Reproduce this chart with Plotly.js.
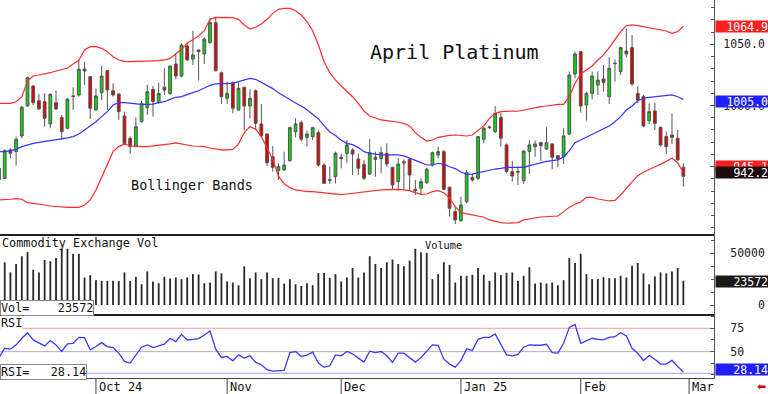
<!DOCTYPE html>
<html>
<head>
<meta charset="utf-8">
<script src="https://cdn.plot.ly/plotly-3.0.1.min.js"></script>
<style>
html,body{margin:0;padding:0;background:#fff;}
#chart{width:768px;height:394px;}
</style>
</head>
<body>
<div id="chart"></div>
<script>
// ---- Data ----
const openP = [
 939.2, 940.5, 963.7, 962.3, 975.1, 999.6, 1015.9, 1003.9, 1003.1, 984.9,
 1002.3, 990.3, 981.4, 1007.8, 1008.6, 1029.8, 1023.6, 996.3, 1010.5, 1028.5,
 1012.1, 1009.4, 991.4, 973.2, 966.4, 986.8, 998.2, 1013.2, 1002.3, 1014.9,
 1009.9, 1033.9, 1024.1, 1048.6, 1038.0, 1045.4, 1042.1, 1051.3, 1067.7, 1026.8,
 1005.9, 1018.7, 996.3, 1014.9, 999.6, 1012.1, 984.9, 976.7, 958.2, 946.8,
 947.3, 954.9, 978.6, 986.0, 974.0, 974.6, 977.8, 951.4, 939.5, 941.9,
 957.7, 960.9, 963.7, 956.3, 951.9, 944.0, 956.0, 956.6, 960.9, 949.5,
 937.8, 953.0, 956.0, 931.5, 932.3, 937.0, 951.4, 959.6, 962.3, 933.2,
 913.3, 905.9, 921.5, 941.3, 940.5, 972.4, 981.9, 978.6, 990.3, 967.8,
 946.0, 946.0, 938.6, 962.3, 966.4, 969.6, 964.5, 968.6, 959.0, 958.2,
 976.7, 1025.7, 1044.0, 1000.4, 1009.9, 1016.8, 1021.7, 1007.2, 1034.6, 1027.7,
 1044.5, 1047.3, 1009.9, 1007.2, 987.6, 995.5, 982.2, 974.6, 975.9, 973.2,
 949.5];
const highP = [
 955.5, 964.2, 965.0, 974.6, 999.6, 1023.6, 1016.8, 1009.4, 1009.9, 1009.9,
 1012.1, 992.3, 1005.9, 1014.9, 1037.2, 1035.8, 1023.6, 1014.0, 1032.3, 1028.5,
 1018.1, 1009.9, 995.0, 974.6, 990.3, 1003.9, 1016.8, 1015.9, 1018.7, 1030.4,
 1032.3, 1042.6, 1050.8, 1051.3, 1061.1, 1045.4, 1055.7, 1071.2, 1072.0, 1027.7,
 1019.5, 1019.5, 1018.7, 1014.9, 1013.2, 1013.2, 1001.2, 977.3, 966.9, 952.8,
 962.3, 982.7, 989.5, 987.6, 979.5, 982.7, 979.5, 952.8, 950.0, 962.3,
 960.4, 971.8, 965.0, 960.9, 955.5, 972.4, 962.3, 966.4, 969.1, 950.0,
 956.9, 956.0, 956.9, 939.2, 940.5, 949.2, 962.3, 966.4, 963.7, 933.7,
 917.4, 925.5, 947.3, 944.6, 975.1, 982.7, 983.5, 999.6, 994.2, 969.1,
 954.7, 950.0, 963.7, 971.8, 971.3, 970.5, 982.2, 969.1, 959.6, 981.4,
 1027.7, 1044.0, 1044.0, 1011.3, 1027.7, 1027.7, 1033.1, 1039.4, 1037.7, 1048.1,
 1063.0, 1057.6, 1015.9, 1008.6, 1001.8, 1002.3, 982.7, 978.6, 993.6, 980.0,
 952.8];
const lowP = [
 935.1, 940.0, 956.9, 950.9, 973.2, 999.1, 1000.4, 996.3, 982.7, 981.4,
 996.3, 971.8, 980.5, 996.3, 1007.2, 1016.8, 989.0, 995.8, 1004.5, 996.3,
 1007.2, 988.2, 968.6, 960.4, 966.0, 986.3, 992.3, 990.9, 1001.8, 1008.6,
 1008.6, 1021.4, 1023.0, 1036.4, 1033.1, 1020.3, 1033.9, 1050.8, 1027.7, 1001.2,
 1001.2, 993.6, 995.8, 979.5, 989.5, 980.0, 974.0, 950.6, 946.0, 939.2,
 946.8, 954.1, 974.0, 970.5, 966.4, 971.8, 950.0, 935.9, 935.9, 936.4,
 948.7, 953.3, 943.2, 943.2, 939.2, 943.2, 941.9, 944.6, 950.0, 931.5,
 930.4, 931.0, 930.4, 926.9, 926.9, 935.9, 950.0, 956.9, 931.0, 909.2,
 903.2, 905.1, 920.1, 937.8, 939.2, 969.1, 981.0, 977.3, 966.4, 944.6,
 937.8, 935.1, 935.9, 944.0, 958.2, 954.9, 963.7, 947.9, 949.5, 952.2,
 975.9, 1022.2, 994.2, 987.6, 1005.0, 1008.6, 1011.3, 1001.2, 1019.5, 1024.9,
 1039.4, 1015.9, 1001.8, 982.2, 984.9, 980.0, 966.4, 960.4, 968.6, 955.0,
 933.7];
const closeP = [
 948.7, 963.1, 960.9, 972.4, 998.5, 1022.8, 1002.3, 997.2, 989.5, 1009.1,
 997.2, 978.6, 1005.3, 1007.5, 1029.6, 1028.2, 997.7, 1007.8, 1024.1, 1012.7,
 1008.6, 995.0, 968.6, 966.4, 982.7, 1001.8, 1011.3, 1003.1, 1009.9, 1012.7,
 1032.3, 1024.1, 1049.4, 1037.2, 1041.3, 1044.0, 1054.3, 1067.7, 1028.5, 1007.2,
 1009.9, 997.7, 1014.0, 999.6, 1005.9, 985.4, 975.1, 953.3, 949.5, 950.0,
 951.4, 981.9, 984.9, 972.4, 976.7, 981.9, 951.4, 936.4, 939.0, 960.9,
 956.6, 967.8, 960.4, 948.7, 940.5, 961.5, 957.7, 961.5, 952.2, 935.1,
 952.2, 954.0, 943.2, 930.4, 937.8, 947.9, 961.5, 962.3, 931.5, 916.0,
 906.5, 918.7, 945.1, 939.2, 974.6, 981.4, 982.4, 993.6, 973.2, 946.0,
 942.4, 945.6, 962.8, 967.8, 968.6, 967.2, 969.6, 957.7, 956.3, 975.1,
 1024.9, 1042.1, 999.6, 1009.9, 1024.1, 1020.8, 1018.7, 1030.4, 1034.2, 1047.3,
 1042.1, 1017.6, 1004.5, 983.3, 995.0, 985.4, 967.7, 966.4, 974.0, 955.5,
 942.2];
const bbUpper = [
 1001.8, 1001.8, 1001.8, 1003.1, 1007.2, 1020.0, 1024.1, 1024.9, 1025.7, 1026.8,
 1028.2, 1029.0, 1030.4, 1033.9, 1037.2, 1045.4, 1048.1, 1048.1, 1046.7, 1044.0,
 1039.9, 1037.2, 1036.1, 1035.8, 1035.8, 1036.4, 1036.4, 1036.4, 1036.6, 1037.2,
 1038.5, 1042.4, 1045.9, 1050.8, 1053.5, 1056.8, 1061.1, 1070.4, 1072.0, 1072.0,
 1072.0, 1071.8, 1070.4, 1065.8, 1062.5, 1063.9, 1066.6, 1070.4, 1075.3, 1078.6,
 1079.4, 1079.4, 1077.5, 1073.9, 1068.5, 1061.1, 1049.4, 1035.8, 1026.8, 1020.8,
 1015.9, 1011.9, 1007.2, 1001.8, 995.5, 991.4, 989.5, 988.2, 987.6, 987.1,
 986.3, 985.4, 983.3, 977.8, 974.0, 971.0, 971.8, 974.0, 975.1, 975.6,
 975.9, 975.6, 975.1, 975.9, 979.5, 983.3, 989.5, 993.6, 995.0, 995.5,
 995.5, 995.3, 996.3, 997.2, 998.5, 999.1, 999.6, 1000.4, 1000.9, 1000.9,
 1007.2, 1018.1, 1025.7, 1029.0, 1032.3, 1037.2, 1041.3, 1047.3, 1054.1, 1060.3,
 1065.2, 1065.8, 1065.2, 1064.4, 1063.6, 1062.8, 1061.7, 1060.9, 1059.0, 1060.3,
 1064.9];
const bbMid = [
 962.3, 962.3, 963.1, 964.2, 966.4, 967.8, 969.1, 969.9, 970.5, 971.3,
 971.8, 972.4, 973.5, 974.6, 976.7, 980.0, 983.3, 986.8, 990.9, 995.0,
 1000.4, 1002.3, 1002.3, 1001.8, 1001.2, 1000.9, 1000.9, 1001.2, 1002.3, 1003.1,
 1005.0, 1006.7, 1007.2, 1008.6, 1010.5, 1012.1, 1014.0, 1016.5, 1017.6, 1017.6,
 1017.6, 1018.1, 1019.5, 1020.8, 1022.2, 1021.4, 1018.9, 1015.9, 1013.8, 1010.5,
 1007.5, 1004.5, 1002.1, 999.6, 996.6, 992.8, 989.0, 983.5, 978.4, 975.4,
 971.6, 969.1, 968.0, 965.6, 962.3, 960.9, 960.1, 959.6, 959.6, 959.6,
 959.6, 958.8, 957.1, 955.5, 953.3, 951.4, 951.4, 952.8, 951.9, 950.0,
 948.4, 945.7, 943.8, 944.0, 945.1, 946.2, 947.3, 948.1, 948.7, 949.5,
 949.5, 949.2, 949.5, 950.9, 952.2, 953.3, 954.4, 954.9, 955.5, 958.2,
 963.1, 969.6, 971.8, 974.0, 976.2, 978.4, 980.6, 983.3, 986.8, 990.9,
 996.3, 999.6, 1003.9, 1005.9, 1006.7, 1007.2, 1007.8, 1008.3, 1008.6, 1007.2,
 1005.0];
const bbLower = [
 922.8, 922.8, 923.4, 923.9, 923.4, 920.6, 920.1, 919.3, 918.7, 917.9,
 917.4, 917.4, 916.8, 916.8, 916.8, 918.7, 922.8, 931.0, 941.9, 951.4,
 962.3, 966.4, 968.6, 966.9, 966.4, 966.4, 966.4, 966.9, 967.2, 967.5,
 968.6, 969.4, 968.6, 967.5, 966.9, 966.7, 966.4, 965.3, 964.5, 963.7,
 963.7, 964.2, 968.6, 977.8, 982.7, 980.6, 974.6, 965.0, 956.0, 942.4,
 935.9, 932.9, 931.0, 930.4, 929.6, 929.6, 929.1, 928.8, 928.3, 927.7,
 927.2, 927.7, 928.3, 929.1, 929.6, 930.4, 930.7, 931.0, 931.3, 931.5,
 931.5, 931.0, 930.4, 928.8, 927.4, 927.7, 929.6, 930.4, 928.8, 924.2,
 917.4, 912.5, 911.4, 910.6, 909.7, 908.7, 906.5, 905.1, 904.3, 903.8,
 903.8, 904.3, 906.5, 907.6, 908.1, 908.9, 909.2, 908.9, 909.7, 913.3,
 916.8, 919.3, 921.2, 925.0, 925.0, 923.6, 922.8, 922.0, 922.5, 926.9,
 932.3, 937.8, 942.7, 945.4, 947.9, 950.0, 951.9, 954.1, 956.9, 953.3,
 945.1];
const volume = [
 30000, 41320, 31520, 39690, 47200, 51120, 34130, 31520, 43610, 42300,
 45570, 54390, 54390, 49490, 49490, 26620, 28910, 24010, 23350, 23350,
 23350, 23350, 31520, 23350, 27270, 20080, 32500, 22700, 21070, 27270,
 25640, 26620, 24990, 26620, 29890, 29560, 21070, 21720, 32500, 30540,
 22700, 21720, 19100, 37400, 25960, 31520, 24990, 31520, 25960, 26290,
 20740, 24990, 20080, 18450, 21070, 19100, 30870, 30870, 26290, 29890,
 22700, 26620, 35770, 26620, 31520, 47200, 39690, 35770, 41320, 43930,
 39690, 37400, 42960, 54390, 51120, 50470, 24990, 29890, 41320, 38710,
 21720, 28250, 28250, 29230, 35770, 29230, 23350, 31520, 28910, 31190,
 31520, 23350, 28250, 36420, 20740, 21720, 20740, 21720, 19100, 24010,
 45570, 40670, 49490, 29890, 24990, 24990, 26940, 25960, 25960, 28250,
 26620, 38050, 40670, 30540, 20080, 27600, 31520, 30540, 32500, 35770,
 23572];
const rsi = [
 43.5, 53.6, 52.6, 57.2, 64.3, 70.3, 62.5, 59.6, 56.1, 61.8,
 57.2, 50.1, 58.2, 58.9, 65.3, 65.0, 51.8, 55.4, 59.6, 55.4,
 54.3, 48.3, 39.4, 37.7, 46.5, 54.7, 57.2, 54.3, 56.1, 57.9,
 64.3, 60.7, 68.5, 62.5, 63.2, 63.9, 67.8, 72.1, 52.6, 43.7,
 44.8, 40.1, 46.5, 43.0, 45.5, 38.4, 35.9, 30.6, 29.1, 29.5,
 29.9, 49.0, 50.1, 44.8, 46.2, 49.4, 37.7, 33.1, 34.8, 46.5,
 45.5, 50.1, 47.6, 43.0, 38.7, 50.4, 49.0, 50.1, 45.5, 38.4,
 48.3, 48.3, 43.7, 38.7, 43.7, 50.1, 57.2, 56.8, 41.9, 36.6,
 33.4, 40.5, 52.9, 51.1, 63.2, 65.3, 65.3, 68.9, 57.2, 46.5,
 45.5, 46.9, 54.7, 57.2, 56.8, 56.8, 57.9, 49.0, 48.3, 58.9,
 76.0, 79.1, 58.9, 61.8, 64.3, 63.2, 62.5, 65.3, 66.0, 70.3,
 66.7, 53.6, 48.3, 40.5, 45.8, 41.9, 36.6, 36.6, 40.5, 34.1,
 28.14];
const monthStartIdx = [17, 40, 60, 81, 102, 121];
const monthLabels = ['Oct 24', 'Nov', 'Dec', 'Jan 25', 'Feb', 'Mar'];
const priceTicks = [950, 1000, 1050];
const priceTickText = ['\u00a0950.0', '1000.0', '1050.0'];
const volTicks = [0, 50000];
const volTickText = ['\u00a0\u00a0\u00a0\u00a0\u00a00', '\u00a050000'];
const rsiTicks = [50, 75];
const rsiTickText = ['\u00a050', '\u00a075'];
const rsiLevels = [75, 50, 26.7];
const rsiLevelColors = ['#ff9a9a', '#b4b4b4', '#a0a0ff'];

// ---- Chart ----
const xs = closeP.map((_, i) => i);
const mono = 'DejaVu Sans Mono, Liberation Mono, monospace';
const last = closeP.length - 1;

const traces = [
  {type: 'scatter', mode: 'lines', x: xs, y: bbUpper, xaxis: 'x', yaxis: 'y',
   line: {color: '#ff2b2b', width: 1.2}},
  {type: 'scatter', mode: 'lines', x: xs, y: bbLower, xaxis: 'x', yaxis: 'y',
   line: {color: '#ff2b2b', width: 1.2}},
  {type: 'scatter', mode: 'lines', x: xs, y: bbMid, xaxis: 'x', yaxis: 'y',
   line: {color: '#3535ff', width: 1.2}},
  {type: 'candlestick', x: xs, open: openP, high: highP, low: lowP, close: closeP,
   xaxis: 'x', yaxis: 'y', whiskerwidth: 0,
   increasing: {line: {color: '#555555', width: 1}, fillcolor: '#11d011'},
   decreasing: {line: {color: '#555555', width: 1}, fillcolor: '#e00000'}},
  {type: 'bar', x: xs, y: volume, xaxis: 'x', yaxis: 'y2', width: 0.32,
   marker: {color: '#2a2a2a', line: {width: 0}}},
  {type: 'scatter', mode: 'lines', x: xs, y: rsi, xaxis: 'x', yaxis: 'y3',
   line: {color: '#3a3aff', width: 1.3}}
];

const H = 378; // plot area height in px
const dMain = (H - 235) / H, dVol = (H - 315) / H;

const yCommon = {
  side: 'right', anchor: 'x', showline: true, linecolor: '#555', linewidth: 1,
  ticks: 'inside', ticklen: 4, tickcolor: '#555', showgrid: false, zeroline: false,
  tickfont: {family: mono, size: 11.5, color: '#222'}, fixedrange: true,
  ticklabelstandoff: 6
};

const shapes = [
  {type: 'line', xref: 'paper', yref: 'paper', x0: 0, x1: 1, y0: dMain, y1: dMain,
   line: {color: '#222', width: 2}},
  {type: 'line', xref: 'paper', yref: 'paper', x0: 0, x1: 1, y0: dVol, y1: dVol,
   line: {color: '#222', width: 2}}
];
rsiLevels.forEach((v, k) => shapes.push({type: 'line', layer: 'below', xref: 'paper', yref: 'y3',
  x0: 0, x1: 1, y0: v, y1: v, line: {color: rsiLevelColors[k], width: 1}}));
monthStartIdx.forEach(v => shapes.push({type: 'line', xref: 'x', yref: 'paper',
  x0: v, x1: v, y0: -16 / H, y1: 0, line: {color: '#444', width: 1}}));

function valueBox(y, yref, text, bg, yshift) {
  return {xref: 'paper', x: 1, xanchor: 'left', xshift: 1, yref: yref, y: y, yanchor: 'middle',
    yshift: yshift, text: text, showarrow: false, bgcolor: bg, width: 52, height: 11,
    align: 'right', borderpad: 0, font: {family: mono, size: 11.5, color: '#ffffff'}};
}
function label(x, xanchor, yPx, text, size, extra) {
  return Object.assign({xref: 'paper', yref: 'paper', x: x, xanchor: xanchor,
    y: (H - yPx) / H, yanchor: 'middle', text: text, showarrow: false,
    font: {family: mono, size: size, color: '#111'}}, extra || {});
}

const annotations = [
  label(455 / 714, 'center', 51.5, 'April Platinum', 20),
  label(192 / 714, 'center', 185, 'Bollinger Bands', 13.5),
  label(0, 'left', 243, 'Commodity Exchange Vol', 11.8),
  label(443.5 / 714, 'center', 245, 'Volume', 10.3),
  label(0, 'left', 322.5, 'RSI', 11.8, {bgcolor: '#fff', borderpad: 0}),
  label(0, 'left', 308, 'Vol=\u00a0\u00a0\u00a0\u00a0' + volume[last], 11.8,
    {bgcolor: '#fff', bordercolor: '#888', borderwidth: 1, borderpad: 0}),
  label(0, 'left', 372, 'RSI=\u00a0\u00a0\u00a0' + rsi[last].toFixed(2), 11.8,
    {bgcolor: '#fff', bordercolor: '#888', borderwidth: 1, borderpad: 0}),
  valueBox(bbUpper[last], 'y', bbUpper[last].toFixed(1), '#ff1e1e', 0),
  valueBox(bbMid[last], 'y', bbMid[last].toFixed(1), '#1e1eff', -2),
  valueBox(bbLower[last], 'y', bbLower[last].toFixed(1), '#ff1e1e', 6),
  valueBox(closeP[last], 'y', closeP[last].toFixed(1), '#1a0c0c', 4),
  valueBox(volume[last], 'y2', String(volume[last]), '#1a1a1a', -1),
  valueBox(rsi[last], 'y3', rsi[last].toFixed(2), '#1e1eff', 2),
  label(761 / 714, 'center', 387, '\u2b05', 11, {font: {family: 'DejaVu Sans', size: 11, color: '#e00000'}})
];
monthStartIdx.forEach((v, k) => annotations.push({xref: 'x', yref: 'paper', x: v, xanchor: 'left',
  xshift: 1, y: -8.5 / H, yanchor: 'middle', text: monthLabels[k], showarrow: false,
  font: {family: mono, size: 12, color: '#111'}}));

const layout = {
  width: 768, height: 394,
  margin: {l: 0, r: 54, t: 0, b: 16, pad: 0},
  paper_bgcolor: '#ffffff', plot_bgcolor: '#ffffff',
  showlegend: false, hovermode: false, dragmode: false,
  font: {family: mono, size: 11.5, color: '#222'},
  xaxis: {domain: [0, 1], anchor: 'y3', range: [0.175, 125.37],
    rangeslider: {visible: false}, showticklabels: false, ticks: '',
    showline: true, linecolor: '#444', linewidth: 1,
    showgrid: false, zeroline: false, fixedrange: true},
  yaxis: Object.assign({}, yCommon, {domain: [dMain, 1], range: [894.2, 1086.2],
    tickmode: 'array', tickvals: priceTicks, ticktext: priceTickText,
    minor: {dtick: 10, ticks: 'inside', ticklen: 3, tickcolor: '#555'}}),
  yaxis2: Object.assign({}, yCommon, {domain: [dVol, dMain], range: [-9670, 67700],
    tickmode: 'array', tickvals: volTicks, ticktext: volTickText,
    minor: {dtick: 12500, ticks: 'inside', ticklen: 3, tickcolor: '#555'}}),
  yaxis3: Object.assign({}, yCommon, {domain: [0, dVol], range: [21.67, 89.27],
    tickmode: 'array', tickvals: rsiTicks, ticktext: rsiTickText,
    minor: {dtick: 12.5, ticks: 'inside', ticklen: 3, tickcolor: '#555'}}),
  shapes: shapes,
  annotations: annotations
};

Plotly.newPlot('chart', traces, layout, {staticPlot: true, displayModeBar: false});
</script>
</body>
</html>
